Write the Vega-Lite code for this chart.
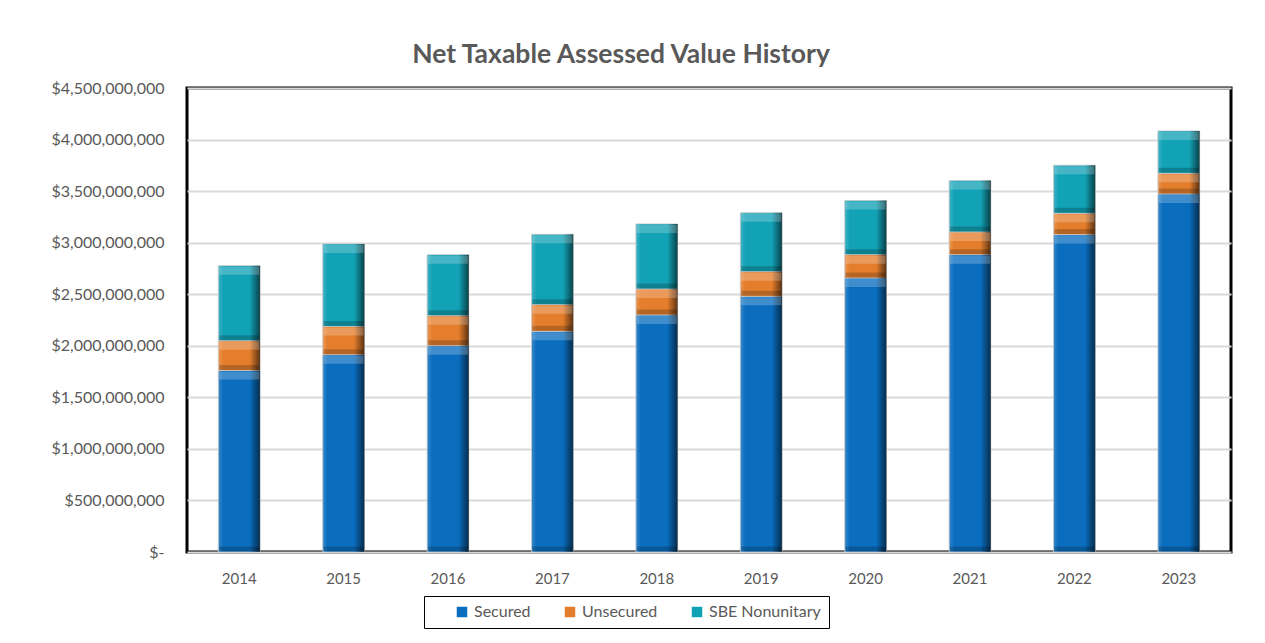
{
  "$schema": "https://vega.github.io/schema/vega-lite/v6.json",
  "width": 1044,
  "height": 464,
  "autosize": {"type": "none"},
  "padding": {"left": 187, "top": 88, "right": 34, "bottom": 91},
  "background": "white",
  "title": {
    "text": "Net Taxable Assessed Value History",
    "font": "Lato",
    "fontSize": 26.5,
    "fontWeight": "bold",
    "color": "#595959",
    "anchor": "middle",
    "dx": -88,
    "offset": 12
  },
  "config": {
    "view": {"stroke": "black", "strokeWidth": 3},
    "axis": {"labelFont": "Lato", "labelColor": "#595959", "labelFontSize": 15}
  },
  "data": {
    "values": [
      {"year": "2014", "type": "Secured", "order": 1, "value": 1761000000},
      {"year": "2014", "type": "Unsecured", "order": 2, "value": 288000000},
      {"year": "2014", "type": "SBE Nonunitary", "order": 3, "value": 728000000},
      {"year": "2015", "type": "Secured", "order": 1, "value": 1914000000},
      {"year": "2015", "type": "Unsecured", "order": 2, "value": 274000000},
      {"year": "2015", "type": "SBE Nonunitary", "order": 3, "value": 800000000},
      {"year": "2016", "type": "Secured", "order": 1, "value": 2001000000},
      {"year": "2016", "type": "Unsecured", "order": 2, "value": 291000000},
      {"year": "2016", "type": "SBE Nonunitary", "order": 3, "value": 592000000},
      {"year": "2017", "type": "Secured", "order": 1, "value": 2140000000},
      {"year": "2017", "type": "Unsecured", "order": 2, "value": 259000000},
      {"year": "2017", "type": "SBE Nonunitary", "order": 3, "value": 682000000},
      {"year": "2018", "type": "Secured", "order": 1, "value": 2299000000},
      {"year": "2018", "type": "Unsecured", "order": 2, "value": 252000000},
      {"year": "2018", "type": "SBE Nonunitary", "order": 3, "value": 631000000},
      {"year": "2019", "type": "Secured", "order": 1, "value": 2480000000},
      {"year": "2019", "type": "Unsecured", "order": 2, "value": 239000000},
      {"year": "2019", "type": "SBE Nonunitary", "order": 3, "value": 570000000},
      {"year": "2020", "type": "Secured", "order": 1, "value": 2658000000},
      {"year": "2020", "type": "Unsecured", "order": 2, "value": 226000000},
      {"year": "2020", "type": "SBE Nonunitary", "order": 3, "value": 524000000},
      {"year": "2021", "type": "Secured", "order": 1, "value": 2884000000},
      {"year": "2021", "type": "Unsecured", "order": 2, "value": 220000000},
      {"year": "2021", "type": "SBE Nonunitary", "order": 3, "value": 498000000},
      {"year": "2022", "type": "Secured", "order": 1, "value": 3078000000},
      {"year": "2022", "type": "Unsecured", "order": 2, "value": 207000000},
      {"year": "2022", "type": "SBE Nonunitary", "order": 3, "value": 466000000},
      {"year": "2023", "type": "Secured", "order": 1, "value": 3473000000},
      {"year": "2023", "type": "Unsecured", "order": 2, "value": 200000000},
      {"year": "2023", "type": "SBE Nonunitary", "order": 3, "value": 411000000}
    ]
  },
  "transform": [
    {"stack": "value", "groupby": ["year"], "sort": [{"field": "order", "order": "ascending"}], "as": ["v0", "v1"]}
  ],
  "encoding": {
    "x": {
      "field": "year", "type": "nominal", "title": null,
      "scale": {"paddingInner": 0.6, "paddingOuter": 0.3},
      "axis": {"labelAngle": 0, "ticks": false, "domain": false, "labelPadding": 19, "grid": false}
    },
    "y": {
      "field": "v1", "type": "quantitative", "title": null,
      "scale": {"domain": [0, 4500000000], "nice": false, "zero": true},
      "axis": {
        "values": [0, 500000000, 1000000000, 1500000000, 2000000000, 2500000000, 3000000000, 3500000000, 4000000000, 4500000000],
        "labelExpr": "datum.value == 0 ? '$-' : '$' + format(datum.value, ',')",
        "labelFontSize": 16,
        "ticks": false, "domain": false, "labelPadding": 23,
        "gridColor": "#D9D9D9", "gridWidth": 2
      }
    }
  },
  "layer": [
    {
      "mark": {"type": "bar", "stroke": "#C8C8C8", "strokeWidth": 0.8},
      "encoding": {
        "y2": {"field": "v0"},
        "color": {
          "field": "type", "type": "nominal",
          "scale": {"domain": ["Secured", "Unsecured", "SBE Nonunitary"], "range": ["#0A6DBE", "#E47E2C", "#12A2B6"]},
          "legend": {
            "title": null, "orient": "none", "direction": "horizontal",
            "legendX": 237, "legendY": 508,
            "symbolType": "square", "symbolSize": 110, "symbolStrokeWidth": 0,
            "symbolOffset": 22,
            "labelFont": "Lato", "labelFontSize": 16, "labelColor": "#595959",
            "labelOffset": 4, "columnPadding": 9, "padding": 8,
            "strokeColor": "black",
            "encode": {"legend": {"update": {"strokeWidth": {"value": 2}}}}
          }
        }
      }
    },
    {
      "mark": {
        "type": "bar",
        "fill": {
          "gradient": "linear", "x1": 0, "y1": 0, "x2": 1, "y2": 0,
          "stops": [
            {"offset": 0, "color": "rgba(255,255,255,0.18)"},
            {"offset": 0.12, "color": "rgba(255,255,255,0)"},
            {"offset": 0.75, "color": "rgba(0,0,0,0)"},
            {"offset": 1, "color": "rgba(0,0,0,0.6)"}
          ]
        }
      },
      "encoding": {"y2": {"field": "v0"}}
    },
    {
      "mark": {"type": "tick", "size": 40, "thickness": 8, "yOffset": 5, "color": "white", "opacity": 0.22},
      "encoding": {}
    },
    {
      "mark": {"type": "tick", "size": 40, "thickness": 5, "color": "black", "opacity": 0.2},
      "encoding": {"y": {"field": "v0", "type": "quantitative"}, "yOffset": {"value": -3}}
    }
  ]
}
